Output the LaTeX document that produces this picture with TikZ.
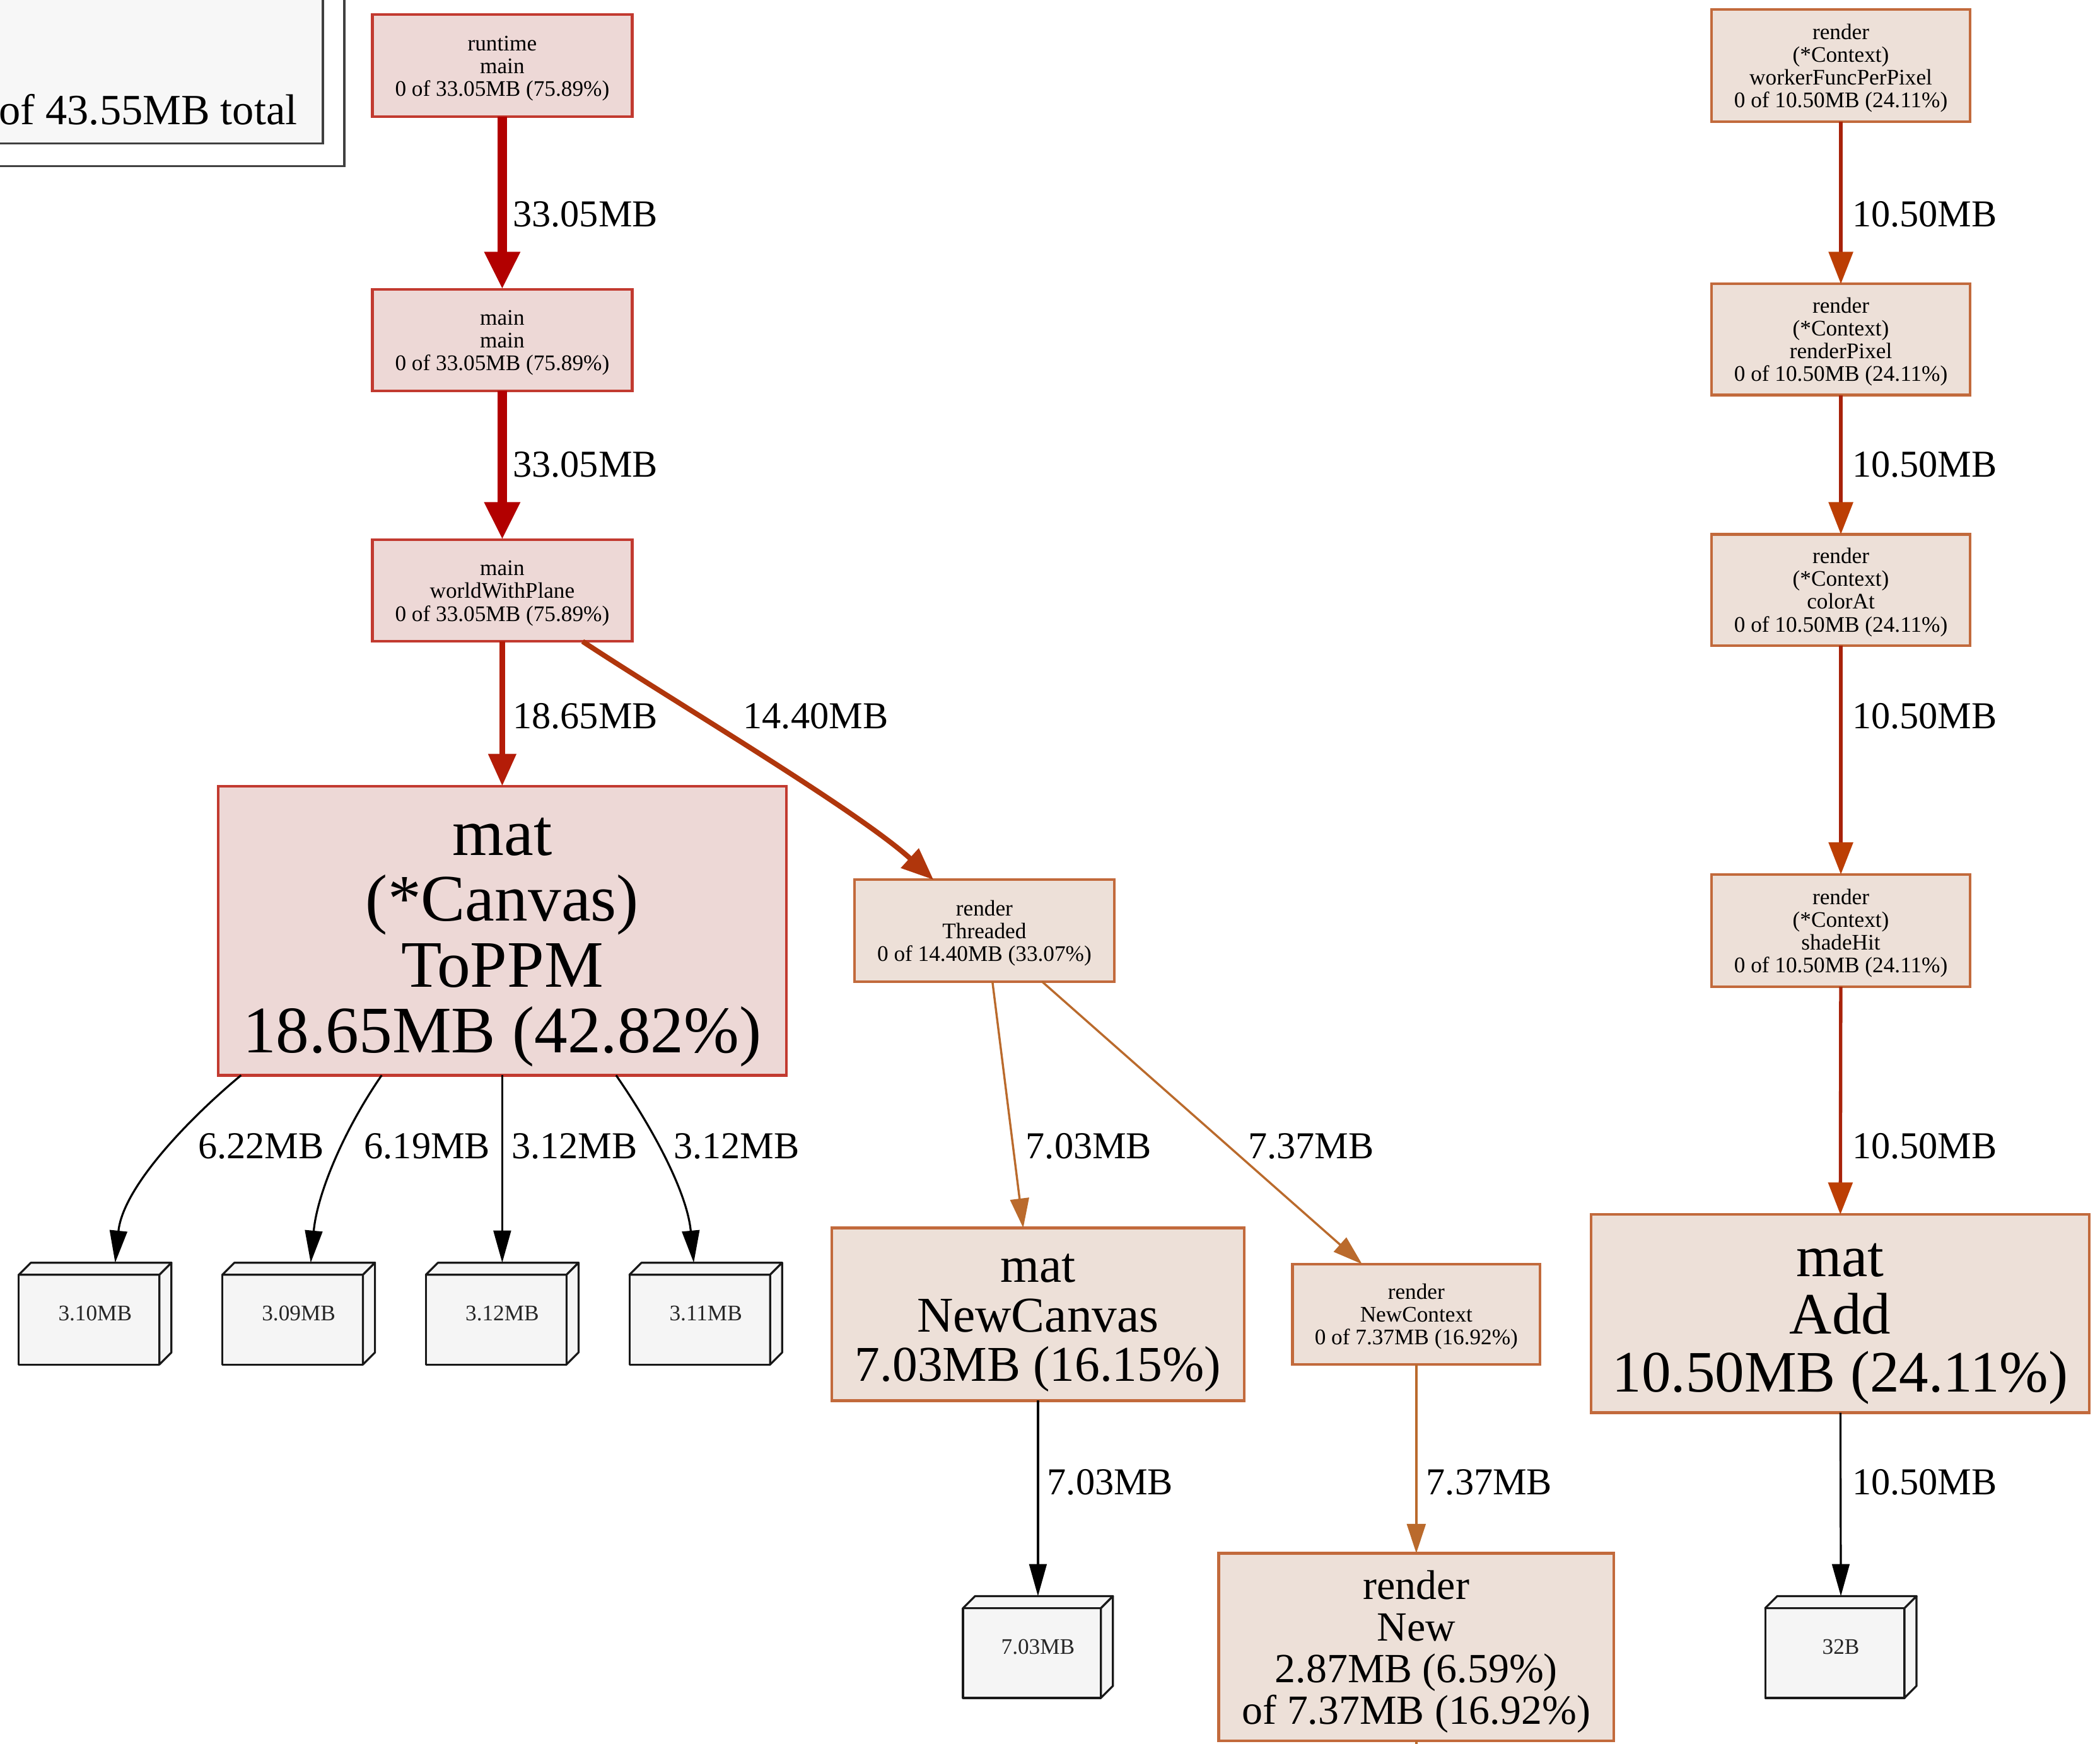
\documentclass[tikz,border=0pt]{standalone}
\usepackage{fontspec}
\setmainfont{Liberation Serif}
\usetikzlibrary{arrows.meta,calc}

\definecolor{redfill}{HTML}{EDD8D6}
\definecolor{redline}{HTML}{C23A30}
\definecolor{orfill}{HTML}{EDE0D8}
\definecolor{orline}{HTML}{C26A3C}
\definecolor{leaffill}{HTML}{F5F5F5}
\definecolor{legfill}{HTML}{F7F7F7}
\definecolor{ethick}{HTML}{B20000}
\definecolor{emid}{HTML}{B41C08}
\definecolor{ebrown}{HTML}{B0360C}
\definecolor{ecol}{HTML}{A8220A}
\definecolor{ecolhead}{HTML}{BC3E04}
\definecolor{eorange}{HTML}{BA6A2C}

% struts that balance the first and last line of a multi-line label
\newcommand\tops{\rule{0pt}{0.92em}}
\newcommand\bots{\rule[-0.22em]{0pt}{0.22em}}

% three faces of a box3d leaf, drawn from the anchors of its bounding node
\newcommand\cubefaces[1]{%
  \filldraw[leafline] (#1.south west) rectangle ($(#1.north east)+(-9,9)$);
  \filldraw[leafline] ($(#1.north west)+(0,9)$) -- ($(#1.north west)+(9,0)$) -- (#1.north east) -- ($(#1.north east)+(-9,9)$) -- cycle;
  \filldraw[leafline] ($(#1.north east)+(-9,9)$) -- (#1.north east) -- ($(#1.south east)+(0,-9)$) -- ($(#1.south east)+(-9,0)$) -- cycle;}

\begin{document}
\begin{tikzpicture}[x=0.5pt,y=-0.5pt,
  every node/.style={inner sep=0pt, outer sep=0pt},
  small/.style={font=\fontsize{8.3pt}{8.5pt}\selectfont},
  rednode/.style={draw=redline, fill=redfill, line width=1pt, align=center, small},
  ornode/.style={draw=orline, fill=orfill, line width=1pt, align=center, small},
  fnbox/.style={minimum width=97pt, minimum height=38pt},
  ctxbox/.style={minimum width=96.5pt, minimum height=42pt},
  leaf/.style={minimum width=57pt, minimum height=38pt},
  leafline/.style={draw=black!90, fill=leaffill, line width=0.75pt, line join=round},
  leaftext/.style={small, text=black!85},
  lbl/.style={font=\fontsize{14.2pt}{14.2pt}\selectfont, anchor=west},
  e33/.style={draw=ethick, line width=3.5pt, -{Triangle[length=14pt,width=12.5pt]}},
  e18/.style={draw=emid, line width=2.2pt, -{Triangle[length=12pt,width=10pt]}},
  e14/.style={draw=ebrown, line width=1.9pt, -{Triangle[length=12pt,width=9.5pt]}},
  e10/.style={draw=ecol, line width=1.25pt, -{Triangle[length=12pt,width=9pt,fill=ecolhead,color=ecolhead]}},
  eor/.style={draw=eorange, line width=0.8pt, -{Triangle[length=11pt,width=7pt]}},
  eblk/.style={draw=black, line width=0.75pt, -{Triangle[length=12pt,width=6.5pt]}},
  legline/.style={draw=black!75, line width=0.8pt},
  legtext/.style={font=\fontsize{16.1pt}{16.1pt}\selectfont}
]
\useasboundingbox (0,0) rectangle (1568,1302);
\fill[white] (0,0) rectangle (1568,1302);

% legend box in the corner
\begin{scope}
  \clip (0,0) rectangle (1568,1302);
  \draw[legline, fill=white] (-20,-20) rectangle (257,124);
  \draw[legline, fill=legfill] (-20,-20) rectangle (241,107);
\end{scope}
\node[legtext, anchor=base east] (legtot) at (222,93) {of 43.55MB total};

% left call chain
\node[rednode, fnbox] (rt) at (375,49) {\tops runtime\\main\\0 of 33.05MB (75.89\%)\bots};
\node[rednode, fnbox] (mm) at (375,254) {\tops main\\main\\0 of 33.05MB (75.89\%)\bots};
\node[rednode, fnbox] (ww) at (375,441) {\tops main\\worldWithPlane\\0 of 33.05MB (75.89\%)\bots};
\node[rednode, minimum width=212pt, minimum height=108pt,
      font=\fontsize{24.8pt}{24.6pt}\selectfont] (toppm) at (375,695)
      {\tops mat\\(*Canvas)\\ToPPM\\18.65MB (42.82\%)\bots};

% render branch
\node[ornode, fnbox] (thr) at (735,695) {\tops render\\Threaded\\0 of 14.40MB (33.07\%)\bots};
\node[ornode, minimum width=154pt, minimum height=64.5pt,
      font=\fontsize{18.7pt}{18.5pt}\selectfont] (ncv) at (775,981.5)
      {\tops mat\\NewCanvas\\7.03MB (16.15\%)\bots};
\node[ornode, minimum width=92.5pt, minimum height=37.5pt] (nctx) at (1057.5,981.5)
      {\tops render\\NewContext\\0 of 7.37MB (16.92\%)\bots};
\node[ornode, minimum width=147.5pt, minimum height=70pt,
      font=\fontsize{15.5pt}{15.5pt}\selectfont] (rnew) at (1057.5,1230)
      {\tops render\\New\\2.87MB (6.59\%)\\of 7.37MB (16.92\%)\bots};
\coordinate (rnewout) at (1057.5,1312);

% right call chain
\node[ornode, ctxbox] (rc1) at (1374.5,49) {\tops render\\(*Context)\\workerFuncPerPixel\\0 of 10.50MB (24.11\%)\bots};
\node[ornode, ctxbox, minimum height=41.5pt] (rc2) at (1374.5,253.5) {\tops render\\(*Context)\\renderPixel\\0 of 10.50MB (24.11\%)\bots};
\node[ornode, ctxbox, minimum height=41.5pt] (rc3) at (1374.5,440.5) {\tops render\\(*Context)\\colorAt\\0 of 10.50MB (24.11\%)\bots};
\node[ornode, ctxbox] (rc4) at (1374.5,695) {\tops render\\(*Context)\\shadeHit\\0 of 10.50MB (24.11\%)\bots};
\node[ornode, minimum width=186pt, minimum height=74pt,
      font=\fontsize{21.9pt}{21.5pt}\selectfont] (add) at (1374,981)
      {\tops mat\\Add\\10.50MB (24.11\%)\bots};

% allocation leaves
\path node[leaf] (l1) at (71,981) {} node[leaf] (l2) at (223,981) {}
      node[leaf] (l3) at (375,981) {} node[leaf] (l4) at (527,981) {}
      node[leaf, minimum width=56pt] (l5) at (775,1230) {}
      node[leaf, minimum width=56.5pt] (l6) at (1374.5,1230) {};
\cubefaces{l1}\cubefaces{l2}\cubefaces{l3}\cubefaces{l4}\cubefaces{l5}\cubefaces{l6}
\node[leaftext] (l1t) at (l1) {3.10MB};
\node[leaftext] (l2t) at (l2) {3.09MB};
\node[leaftext] (l3t) at (l3) {3.12MB};
\node[leaftext] (l4t) at (l4) {3.11MB};
\node[leaftext] (l5t) at (l5) {7.03MB};
\node[leaftext] (l6t) at (l6) {32B};

% connectors
\draw[e33] (rt) -- (mm);
\draw[e33] (mm) -- (ww);
\draw[e18] (ww) -- (toppm);
\draw[e14] ($(ww.south east)+(-37,0)$) .. controls (500,522) and (640,605) .. ($(thr.north west)+(59,0)$);

\draw[eblk] ($(toppm.south west)+(17,0)$) .. controls (145,832) and (92,885) .. ($(l1.north west)+(72,0)$);
\draw[eblk] ($(toppm.south west)+(122,0)$) .. controls (258,842) and (237,890) .. ($(l2.north west)+(66,0)$);
\draw[eblk] (toppm.south) -- (l3.north);
\draw[eblk] ($(toppm.south west)+(297,0)$) .. controls (487,842) and (513,890) .. ($(l4.north west)+(48,0)$);

\draw[eor] ($(thr.south)+(6,0)$) -- ($(ncv.north)+(-11,0)$);
\draw[eor] ($(thr.south)+(43,0)$) -- ($(nctx.north)+(-40.5,0)$);
\draw[eblk] (ncv) -- (l5.north);
\draw[eor] (nctx) -- (rnew);
\draw[draw=eorange, line width=0.8pt] (rnew.south) -- (rnewout);

\draw[e10] (rc1) -- (rc2);
\draw[e10] (rc2) -- (rc3);
\draw[e10] (rc3) -- (rc4);
\draw[e10] (rc4) -- (add);
\draw[eblk] (add) -- (l6.north);

% edge labels
\node[lbl] (t1) at (383,160) {33.05MB};
\node[lbl] (t2) at (383,347) {33.05MB};
\node[lbl] (t3) at (383,535) {18.65MB};
\node[lbl] (t4) at (555,535) {14.40MB};
\node[lbl] (t5) at (148,856) {6.22MB};
\node[lbl] (t6) at (272,856) {6.19MB};
\node[lbl] (t7) at (382,856) {3.12MB};
\node[lbl] (t8) at (503,856) {3.12MB};
\node[lbl] (t9) at (766,856) {7.03MB};
\node[lbl] (t10) at (932,856) {7.37MB};
\node[lbl] (t11) at (782,1107) {7.03MB};
\node[lbl] (t12) at (1065,1107) {7.37MB};
\node[lbl] (t13) at (1383,160) {10.50MB};
\node[lbl] (t14) at (1383,347) {10.50MB};
\node[lbl] (t15) at (1383,535) {10.50MB};
\node[lbl] (t16) at (1383,856) {10.50MB};
\node[lbl] (t17) at (1383,1107) {10.50MB};
\end{tikzpicture}
\end{document}
